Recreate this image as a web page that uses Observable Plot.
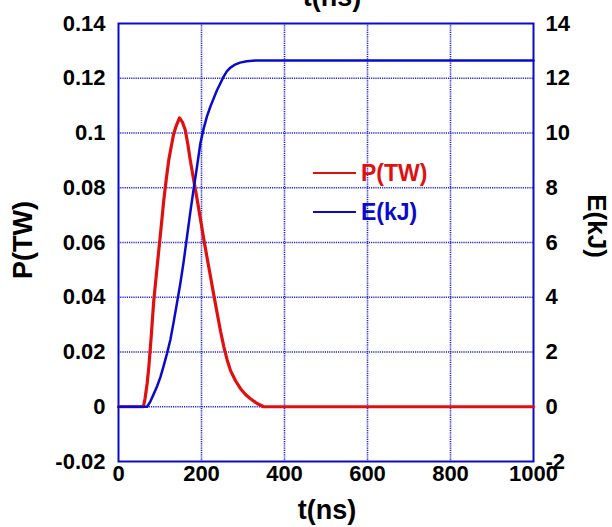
<!DOCTYPE html>
<html><head><meta charset="utf-8">
<script src="https://cdn.jsdelivr.net/npm/d3@7"></script>
<script src="https://cdn.jsdelivr.net/npm/@observablehq/plot@0.6"></script>
<style>
body{margin:0;background:#fff}
svg text{font-family:"Liberation Sans",Arial,sans-serif;font-weight:bold}
</style>
</head><body><div id="chart"></div>
<script>
// Power P(TW) vs time t(ns)
const tP  = [0, 60, 64, 69, 73, 79, 85, 91, 97, 103, 109, 115, 121, 127, 133, 140, 147, 154, 161, 167, 173, 181, 190, 198, 206, 214, 222, 230, 238, 246, 254, 262, 270, 282, 294, 306, 318, 334, 350, 1000];
const pTW = [0, 0, 0.003, 0.0085, 0.0144, 0.026, 0.0388, 0.048, 0.057, 0.066, 0.0753, 0.083, 0.09, 0.095, 0.0997, 0.103, 0.1055, 0.104, 0.101, 0.096, 0.09, 0.083, 0.0753, 0.068, 0.0607, 0.054, 0.0473, 0.0405, 0.034, 0.0275, 0.0218, 0.017, 0.0132, 0.0095, 0.0066, 0.0045, 0.0029, 0.0012, 0, 0];
// Energy E(kJ) vs time t(ns)
const tE  = [0, 69, 77, 85, 93, 101, 109, 117, 125, 133, 141, 149, 157, 165, 173, 181, 189, 197, 205, 213, 221, 229, 237, 245, 253, 261, 269, 281, 293, 309, 330, 1000];
const eKJ = [0, 0, 0.2, 0.47, 0.75, 1.08, 1.5, 1.95, 2.45, 3.1, 3.8, 4.5, 5.3, 6.2, 7.1, 7.95, 8.75, 9.6, 10.15, 10.6, 10.95, 11.25, 11.55, 11.8, 12.05, 12.25, 12.38, 12.5, 12.57, 12.62, 12.65, 12.65];

const xTicks = [0, 200, 400, 600, 800, 1000];
const xTickLabels = ["0", "200", "400", "600", "800", "1000"];
const yTicks = [-0.02, 0, 0.02, 0.04, 0.06, 0.08, 0.1, 0.12, 0.14];
const pTickLabels = ["-0.02", "0", "0.02", "0.04", "0.06", "0.08", "0.1", "0.12", "0.14"];
const eTickLabels = ["-2", "0", "2", "4", "6", "8", "10", "12", "14"];
const seriesNames = ["P(TW)", "E(kJ)"];
const axisTitles = {x: "t(ns)", yLeft: "P(TW)", yRight: "E(kJ)"};
const eToP = 0.01; // right axis: 14 kJ sits where 0.14 TW sits

const RED = "#e01010", BLUE = "#0a0acc", GRID = "#2424d4";

const pData = tP.map((t, i) => ({t, v: pTW[i]}));
const eData = tE.map((t, i) => ({t, v: eKJ[i] * eToP}));

const gridStyle = {stroke: GRID, strokeOpacity: 1, strokeWidth: 1.6, strokeDasharray: "1.2,1"};

const plot = Plot.plot({
  width: 612, height: 527,
  marginLeft: 118, marginRight: 79, marginTop: 23, marginBottom: 66,
  style: {background: "#fff", overflow: "visible"},
  x: {domain: [0, 1000]},
  y: {domain: [-0.02, 0.14]},
  marks: [
    Plot.gridX(xTicks.slice(1, -1), gridStyle),
    Plot.gridY(yTicks.slice(1, -1), gridStyle),
    Plot.axisX(xTicks, {tickSize: 0, tickPadding: 4, fontSize: 22, fill: "#000", label: null,
      tickFormat: d => xTickLabels[xTicks.indexOf(d)]}),
    Plot.axisY(yTicks, {anchor: "left", tickSize: 0, tickPadding: 13, fontSize: 22, fill: "#000", label: null,
      tickFormat: d => pTickLabels[yTicks.indexOf(d)]}),
    Plot.axisY(yTicks, {anchor: "right", tickSize: 0, tickPadding: 12, fontSize: 22, fill: "#000", label: null,
      tickFormat: d => eTickLabels[yTicks.indexOf(d)]}),
    Plot.frame({stroke: BLUE, strokeWidth: 2}),
    Plot.line(pData, {x: "t", y: "v", stroke: RED, strokeWidth: 3.2}),
    Plot.line(eData, {x: "t", y: "v", stroke: BLUE, strokeWidth: 2.5})
  ]
});

const svg = d3.select(plot);
svg.append("text").attr("x", 327).attr("y", 519).attr("text-anchor", "middle")
  .attr("font-size", 27).attr("fill", "#000").text(axisTitles.x);
svg.append("text").attr("x", 332).attr("y", 6).attr("text-anchor", "middle")
  .attr("font-size", 27).attr("fill", "#000").text(axisTitles.x);
svg.append("text").attr("transform", "translate(32,240) rotate(-90)").attr("text-anchor", "middle")
  .attr("font-size", 27).attr("fill", "#000").text(axisTitles.yLeft);
svg.append("text").attr("transform", "translate(588,226) rotate(90)").attr("text-anchor", "middle")
  .attr("font-size", 26).attr("fill", "#000").text(axisTitles.yRight);

// legend
const legendColors = [RED, BLUE];
const legendY = [173, 212];
seriesNames.forEach((name, i) => {
  svg.append("line").attr("x1", 313).attr("x2", 356).attr("y1", legendY[i]).attr("y2", legendY[i])
    .attr("stroke", legendColors[i]).attr("stroke-width", 2);
  svg.append("text").attr("x", 361).attr("y", legendY[i] + 8).attr("font-size", 23)
    .attr("text-anchor", "start").attr("fill", legendColors[i]).text(name);
});

document.getElementById("chart").appendChild(plot);
</script>
</body></html>
